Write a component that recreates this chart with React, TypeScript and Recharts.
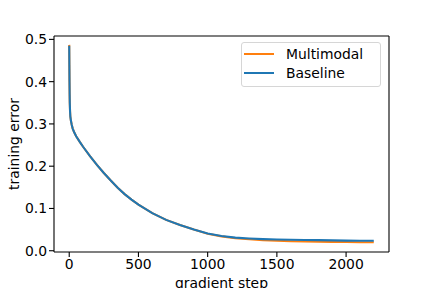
import { LineChart, Line, XAxis, YAxis, Label } from "recharts";

const steps = [
  0, 1, 2, 3, 4, 6, 8, 12, 18, 25, 35, 50, 75, 100, 150, 200, 250, 300, 350, 400, 450, 500,
  600, 700, 800, 900, 1000, 1100, 1200, 1300, 1400, 1500, 1600, 1700, 1800, 1900, 2000, 2100, 2200,
];

const baseline = [
  0.485, 0.44, 0.4, 0.37, 0.35, 0.33, 0.318, 0.308, 0.298, 0.289, 0.281, 0.271, 0.258, 0.246,
  0.224, 0.203, 0.184, 0.166, 0.149, 0.134, 0.121, 0.109, 0.089, 0.073, 0.061, 0.05, 0.041,
  0.035, 0.031, 0.029, 0.0275, 0.0265, 0.026, 0.0255, 0.025, 0.0245, 0.024, 0.0237, 0.0235,
];

const multimodal = [
  0.487, 0.44, 0.4, 0.37, 0.35, 0.33, 0.318, 0.308, 0.298, 0.289, 0.281, 0.271, 0.258, 0.246,
  0.224, 0.203, 0.184, 0.166, 0.149, 0.134, 0.121, 0.109, 0.089, 0.073, 0.061, 0.05, 0.04,
  0.034, 0.0295, 0.027, 0.025, 0.0235, 0.0225, 0.022, 0.0215, 0.021, 0.0205, 0.0202, 0.02,
];

const xTicks = [0, 500, 1000, 1500, 2000];
const yTicks = [0, 0.1, 0.2, 0.3, 0.4, 0.5];

const series = [
  { key: "multimodal", name: "Multimodal", color: "#ff7f0e" },
  { key: "baseline", name: "Baseline", color: "#1f77b4" },
];

const data = steps.map((step, i) => ({ step, multimodal: multimodal[i], baseline: baseline[i] }));

const FONT = "DejaVu Sans";
const tickStyle = { fill: "#000", fontSize: 13.9, fontFamily: FONT };

export default function App() {
  return (
    <div style={{ position: "fixed", left: 0, top: 0, width: 432, height: 288, background: "#fff" }}>
      <LineChart width={432} height={288} data={data} margin={{ top: 35, right: 42, bottom: 0, left: 0 }}>
        <XAxis
          dataKey="step"
          type="number"
          domain={[-110, 2310]}
          ticks={xTicks}
          allowDataOverflow
          height={36}
          tick={tickStyle}
          tickSize={5}
          stroke="#000"
          strokeWidth={1.1}
        >
          <Label
            content={() => (
              <text x={221.5} y={288} textAnchor="middle" fontSize={13.9} fontFamily={FONT} fill="#000">
                gradient step
              </text>
            )}
          />
        </XAxis>
        <XAxis
          xAxisId="top"
          dataKey="step"
          orientation="top"
          type="number"
          domain={[-110, 2310]}
          height={1}
          tick={false}
          tickLine={false}
          stroke="#000"
          strokeWidth={1.1}
        />
        <YAxis
          type="number"
          domain={[-0.003, 0.508]}
          ticks={yTicks}
          allowDataOverflow
          width={54}
          tick={tickStyle}
          tickFormatter={(v: number) => v.toFixed(1)}
          tickSize={5}
          stroke="#000"
          strokeWidth={1.1}
        >
          <Label
            content={() => (
              <text
                x={13.5}
                y={144}
                transform="rotate(-90 13.5 144)"
                textAnchor="middle"
                dominantBaseline="central"
                fontSize={13.9}
                fontFamily={FONT}
                fill="#000"
              >
                training error
              </text>
            )}
          />
        </YAxis>
        <YAxis
          yAxisId="right"
          orientation="right"
          type="number"
          domain={[-0.003, 0.508]}
          width={1}
          tick={false}
          tickLine={false}
          stroke="#000"
          strokeWidth={1.1}
        />
        {series.map((s) => (
          <Line
            key={s.key}
            type="linear"
            dataKey={s.key}
            name={s.name}
            stroke={s.color}
            strokeWidth={2.08}
            dot={false}
            isAnimationActive={false}
          />
        ))}
      </LineChart>
      <div
        style={{
          position: "absolute",
          left: 241,
          top: 42,
          width: 140,
          height: 45,
          border: "1px solid #d6d6d6",
          borderRadius: 3,
          background: "rgba(255,255,255,0.8)",
          fontFamily: FONT,
          fontSize: 13.9,
          boxSizing: "border-box",
        }}
      >
        {series.map((s, i) => (
          <div
            key={s.key}
            style={{ position: "absolute", left: 0, top: 1.5 + i * 19.4, height: 19, display: "flex", alignItems: "center" }}
          >
            <div style={{ marginLeft: 2, width: 30, height: 2, background: s.color }} />
            <span style={{ marginLeft: 12, lineHeight: "19px" }}>{s.name}</span>
          </div>
        ))}
      </div>
    </div>
  );
}
